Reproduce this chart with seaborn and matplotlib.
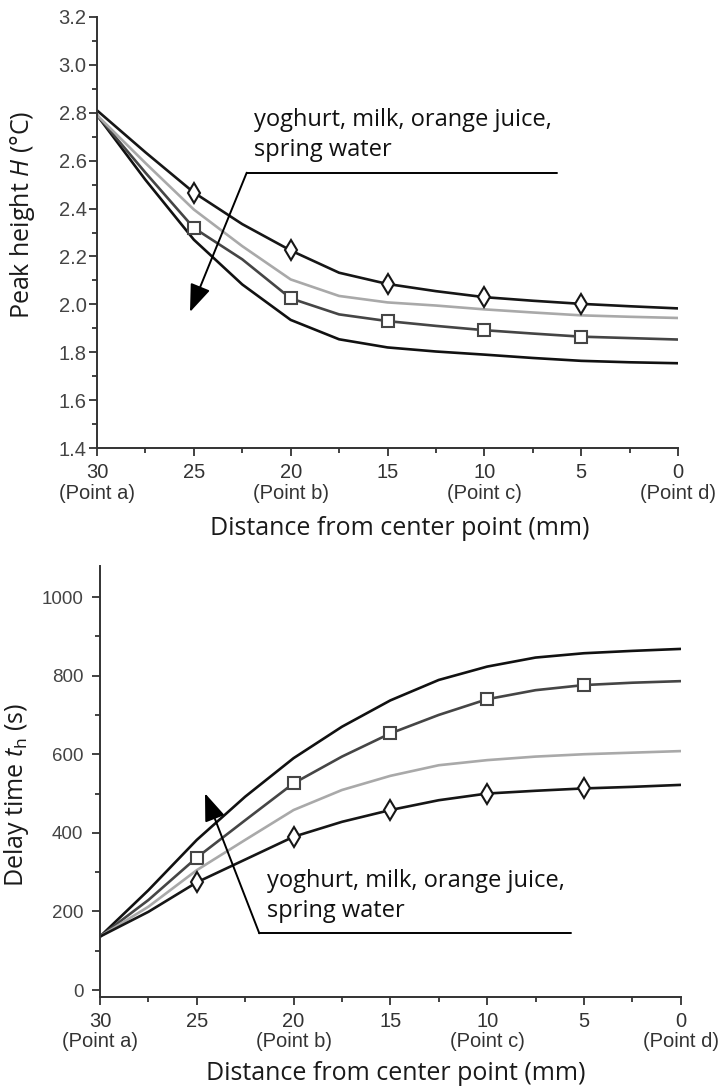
import numpy as np
import pandas as pd
import matplotlib
matplotlib.use("Agg")
import matplotlib.pyplot as plt
import seaborn as sns
from matplotlib.ticker import MultipleLocator, FixedLocator, FormatStrFormatter
from matplotlib.lines import Line2D

# ---------------- data ----------------
distance = [30, 27.5, 25, 22.5, 20, 17.5, 15, 12.5, 10, 7.5, 5, 2.5, 0]

peak_yoghurt = [2.81, 2.635, 2.467, 2.335, 2.225, 2.132, 2.085, 2.055, 2.030, 2.015, 2.002, 1.992, 1.983]
peak_milk = [2.79, 2.59, 2.396, 2.243, 2.104, 2.035, 2.008, 1.995, 1.979, 1.966, 1.954, 1.948, 1.943]
peak_orange = [2.79, 2.55, 2.319, 2.188, 2.025, 1.958, 1.930, 1.910, 1.892, 1.878, 1.865, 1.859, 1.853]
peak_spring = [2.79, 2.52, 2.27, 2.083, 1.935, 1.854, 1.820, 1.803, 1.790, 1.776, 1.764, 1.758, 1.754]

delay_yoghurt = [136, 199, 274, 332, 390, 428, 458, 483, 500, 507, 513, 517, 522]
delay_milk = [136, 212, 305, 382, 458, 509, 545, 572, 585, 594, 600, 604, 608]
delay_orange = [136, 229, 337, 432, 526, 594, 653, 700, 740, 763, 776, 782, 786]
delay_spring = [136, 254, 382, 492, 590, 670, 737, 789, 823, 846, 857, 863, 868]

x_ticks = [30, 25, 20, 15, 10, 5, 0]
x_tick_labels = ["30\n(Point a)", "25", "20\n(Point b)", "15", "10\n(Point c)", "5", "0\n(Point d)"]
peak_ticks = [1.4, 1.6, 1.8, 2.0, 2.2, 2.4, 2.6, 2.8, 3.0, 3.2]
delay_ticks = [0, 200, 400, 600, 800, 1000]
annotation_text = "yoghurt, milk, orange juice,\nspring water"

# ---------------- style ----------------
sns.set_style("ticks")
plt.rcParams["font.family"] = ["Open Sans", "DejaVu Sans"]
plt.rcParams["mathtext.fontset"] = "custom"
plt.rcParams["mathtext.rm"] = "Open Sans"
plt.rcParams["mathtext.it"] = "Open Sans:italic"

W, H = 718, 1088
fig = plt.figure(figsize=(W / 100, H / 100), dpi=100)
fig.patch.set_facecolor("white")

ax1 = fig.add_axes([97 / W, 1 - 448 / H, 581 / W, 431 / H])
ax2 = fig.add_axes([100 / W, 1 - 996.7 / H, 580.7 / W, 430.7 / H])

styles = {
    "yoghurt": dict(color="#161616", marker="d", ms=10, mec="#161616", mfc="white", mew=1.5),
    "milk": dict(color="#a9a9a9", marker=None),
    "orange": dict(color="#454545", marker="s", ms=8.5, mec="#454545", mfc="white", mew=1.5),
    "spring": dict(color="#111111", marker=None),
}

peak_series = {"yoghurt": peak_yoghurt, "milk": peak_milk, "orange": peak_orange, "spring": peak_spring}
delay_series = {"yoghurt": delay_yoghurt, "milk": delay_milk, "orange": delay_orange, "spring": delay_spring}

for ax, series in ((ax1, peak_series), (ax2, delay_series)):
    for name in ["spring", "orange", "milk", "yoghurt"]:
        st = dict(styles[name])
        kw = dict(color=st.pop("color"), lw=1.9)
        mk = st.pop("marker")
        if mk is not None:
            kw.update(marker=mk, markevery=[2, 4, 6, 8, 10], **st)
        df = pd.DataFrame({"d": distance, "v": series[name]})
        sns.lineplot(data=df, x="d", y="v", ax=ax, sort=False, **kw)

spine_c = "#333333"
for ax in (ax1, ax2):
    ax.set_xlim(30, 0)
    for s in ("top", "right"):
        ax.spines[s].set_visible(False)
    for s in ("left", "bottom"):
        ax.spines[s].set_color(spine_c)
        ax.spines[s].set_linewidth(1.4)
    ax.xaxis.set_major_locator(FixedLocator(x_ticks))
    ax.set_xticklabels(x_tick_labels, fontfamily="Liberation Sans", fontsize=14.5, color="#333333",
                       linespacing=1.1)
    ax.xaxis.set_minor_locator(MultipleLocator(2.5))
    ax.tick_params(axis="both", which="major", direction="out", length=6, width=1.3, color=spine_c)
    ax.tick_params(axis="both", which="minor", direction="out", length=3.5, width=1.3, color=spine_c)
    ax.tick_params(axis="x", which="major", pad=5)
    ax.set_xlabel("Distance from center point (mm)", fontsize=18, color="#1a1a1a")

ax1.set_ylim(1.4, 3.2)
ax1.yaxis.set_major_locator(FixedLocator(peak_ticks))
ax1.yaxis.set_minor_locator(MultipleLocator(0.1))
ax1.yaxis.set_major_formatter(FormatStrFormatter("%.1f"))
ax1.tick_params(axis="y", which="major", pad=1.5)
for lab in ax1.get_yticklabels():
    lab.set_fontfamily("Liberation Sans"); lab.set_fontsize(14.5); lab.set_color("#444444")
ax1.set_ylabel(r"Peak height $\mathit{H}$ (°C)", fontsize=18, color="#1a1a1a")
ax1.yaxis.set_label_coords(-0.103, 0.54)
ax1.xaxis.set_label_coords(0.521, -0.158)

ax2.set_ylim(-17, 1079)
ax2.yaxis.set_major_locator(FixedLocator(delay_ticks))
ax2.yaxis.set_minor_locator(MultipleLocator(100))
ax2.tick_params(axis="y", which="major", pad=6)
for lab in ax2.get_yticklabels():
    lab.set_fontfamily("Liberation Sans"); lab.set_fontsize(13.5); lab.set_color("#444444")
ax2.set_ylabel(r"Delay time $\mathit{t}_\mathrm{h}$ (s)", fontsize=18, color="#1a1a1a")
ax2.yaxis.set_label_coords(-0.119, 0.468)
ax2.xaxis.set_label_coords(0.51, -0.149)


def fp(x, y):
    return (x / W, 1 - y / H)


def callout(corner, line_end, tip, text_xy):
    x0, y0 = fp(*corner)
    x1, y1 = fp(*line_end)
    fig.add_artist(Line2D([x0, x1], [y0, y1], transform=fig.transFigure, color="black", lw=1.4))
    fig.add_artist(matplotlib.patches.FancyArrowPatch(
        fp(*corner), fp(*tip), transform=fig.transFigure,
        arrowstyle="-|>,head_length=0.85,head_width=0.32", mutation_scale=20,
        color="black", lw=1.4, shrinkA=0, shrinkB=0))
    fig.text(*fp(*text_xy), annotation_text, ha="left", va="center", fontsize=17,
             color="#111111", linespacing=1.35)


callout((246.7, 172.7), (556.7, 172.7), (190, 312), (254, 135))
callout((259.3, 933.3), (570.7, 933.3), (205, 793.3), (267, 896))

fig.savefig("out.png", dpi=100, facecolor="white")
